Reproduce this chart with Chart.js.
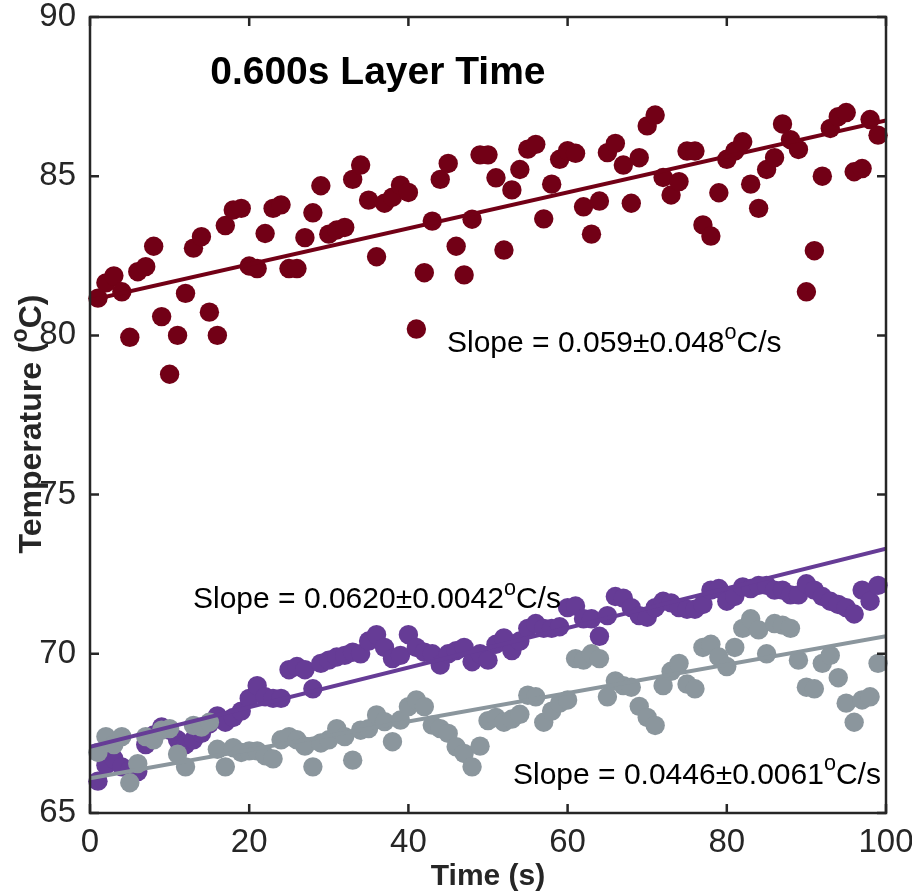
<!DOCTYPE html>
<html lang="en">
<head>
<meta charset="UTF-8">
<title>0.600s Layer Time</title>
<script src="https://cdn.jsdelivr.net/npm/chart.js"></script>
<style>
  html, body { margin: 0; padding: 0; background: #fff; }
</style>
</head>
<body>
<canvas id="grafico" width="912" height="892"></canvas>
<script>
// time axis (s)
var tempos = [1, 2, 3, 4, 5, 6, 7, 8, 9, 10, 11, 12, 13, 14, 15, 16, 17, 18, 19, 20,
  21, 22, 23, 24, 25, 26, 27, 28, 29, 30, 31, 32, 33, 34, 35, 36, 37, 38, 39, 40,
  41, 42, 43, 44, 45, 46, 47, 48, 49, 50, 51, 52, 53, 54, 55, 56, 57, 58, 59, 60,
  61, 62, 63, 64, 65, 66, 67, 68, 69, 70, 71, 72, 73, 74, 75, 76, 77, 78, 79, 80,
  81, 82, 83, 84, 85, 86, 87, 88, 89, 90, 91, 92, 93, 94, 95, 96, 97, 98, 99];

// temperatures (°C)
var tempVermelho = [81.17, 81.65, 81.87, 81.37, 79.94, 82.0, 82.16, 82.8, 80.59, 78.78,
  80.0, 81.32, 82.74, 83.1, 80.73, 80.0, 83.45, 83.94, 83.99, 82.18,
  82.1, 83.2, 83.99, 84.1, 82.1, 82.1, 83.07, 83.85, 84.7, 83.18,
  83.31, 83.39, 84.9, 85.35, 84.25, 82.47, 84.15, 84.34, 84.72, 84.49,
  80.2, 81.97, 83.59, 84.9, 85.4, 82.8, 81.9, 83.65, 85.67, 85.67,
  84.95, 82.68, 84.57, 85.21, 85.85, 86.0, 83.66, 84.75, 85.53, 85.8,
  85.72, 84.04, 83.18, 84.22, 85.74, 86.03, 85.35, 84.15, 85.58, 86.58,
  86.92, 84.96, 84.41, 84.83, 85.79, 85.79, 83.47, 83.12, 84.48, 85.53,
  85.79, 86.08, 84.75, 83.99, 85.21, 85.58, 86.64, 86.15, 85.84, 81.37,
  82.66, 85.0, 86.5, 86.87, 87.0, 85.14, 85.24, 86.78, 86.29];

var tempRoxo = [66.0, 66.5, 66.7, 66.45, 66.35, 66.3, 67.15, 67.45, 67.7, 67.6,
  67.3, 67.15, 67.3, 67.5, 67.8, 68.05, 67.85, 68.0, 68.2, 68.6,
  69.0, 68.65, 68.6, 68.6, 69.5, 69.6, 69.5, 68.9, 69.7, 69.8,
  69.9, 69.95, 70.05, 70.0, 70.4, 70.6, 70.2, 69.85, 69.95, 70.6,
  70.2, 70.05, 70.0, 69.65, 70.0, 70.1, 70.2, 69.75, 70.0, 69.8,
  70.3, 70.5, 70.1, 70.4, 70.8, 70.95, 70.8, 70.8, 70.85, 71.45,
  71.5, 71.1, 71.1, 70.55, 71.2, 71.8, 71.75, 71.45, 71.2, 71.15,
  71.45, 71.65, 71.6, 71.45, 71.4, 71.4, 71.55, 72.0, 72.05, 71.65,
  71.8, 72.1, 72.05, 72.15, 72.15, 72.0, 72.0, 71.85, 71.85, 72.2,
  72.0, 71.8, 71.65, 71.55, 71.45, 71.25, 72.0, 71.65, 72.15];

var tempCinza = [66.9, 67.4, 67.15, 67.4, 65.95, 66.55, 67.4, 67.3, 67.6, 67.65,
  66.85, 66.45, 67.75, 67.7, 67.85, 67.0, 66.45, 67.05, 66.9, 66.95,
  66.95, 66.8, 66.7, 67.3, 67.4, 67.3, 67.1, 66.45, 67.2, 67.3,
  67.65, 67.4, 66.66, 67.6, 67.65, 68.08, 67.87, 67.24, 67.92, 68.34,
  68.55, 68.34, 67.76, 67.65, 67.5, 67.08, 66.87, 66.45, 67.1, 67.9,
  68.0, 67.85, 67.95, 68.1, 68.7, 68.65, 67.85, 68.2, 68.45, 68.55,
  69.85, 69.8, 70.0, 69.85, 68.65, 69.15, 69.0, 68.95, 68.35, 68.0,
  67.75, 69.0, 69.45, 69.7, 69.05, 68.9, 70.2, 70.3, 69.9, 69.6,
  70.2, 70.8, 71.1, 70.75, 70.0, 70.95, 70.9, 70.8, 69.8, 68.95,
  68.9, 69.7, 69.95, 69.25, 68.45, 67.85, 68.55, 68.65, 69.7];

// fitted lines: value at t=0 and t=100
var ajusteX = [0, 100];
var ajusteVermelho = [81.1, 86.75];
var ajusteRoxo = [67.08, 73.3];
var ajusteCinza = [66.09, 70.55];

var ticksX = [0, 20, 40, 60, 80, 100];
var ticksY = [65, 70, 75, 80, 85, 90];

var textosSlope = ['0.059\u00b10.048', '0.0620\u00b10.0042', '0.0446\u00b10.0061'];

var corVermelho = 'rgb(114, 0, 22)';
var corRoxo = 'rgb(102, 60, 150)';
var corCinza = 'rgb(139, 150, 157)';

function pontos(xs, ys) {
  var out = [];
  for (var i = 0; i < xs.length; i++) out.push({ x: xs[i], y: ys[i] });
  return out;
}

var fonte = '"Liberation Sans", Arial, Helvetica, sans-serif';

// text with a superscript "o" before C
function textoRico(ctx, partes, x, y, tam, negrito) {
  var cx = x;
  partes.forEach(function (p) {
    var s = p[1] ? tam * 0.72 : tam;
    ctx.font = (negrito ? 'bold ' : '') + s + 'px ' + fonte;
    ctx.fillText(p[0], cx, p[1] ? y - tam * 0.45 : y);
    cx += ctx.measureText(p[0]).width;
  });
  return cx - x;
}

var moldura = {
  id: 'moldura',
  afterDraw: function (chart) {
    var ctx = chart.ctx, a = chart.chartArea;
    var sx = chart.scales.x, sy = chart.scales.y;
    ctx.save();
    ctx.strokeStyle = '#262626';
    ctx.lineWidth = 2.5;
    ctx.strokeRect(a.left, a.top, a.right - a.left, a.bottom - a.top);
    ctx.beginPath();
    ticksX.forEach(function (v) {
      var px = sx.getPixelForValue(v);
      ctx.moveTo(px, a.bottom); ctx.lineTo(px, a.bottom - 9);
      ctx.moveTo(px, a.top); ctx.lineTo(px, a.top + 9);
    });
    ticksY.forEach(function (v) {
      var py = sy.getPixelForValue(v);
      ctx.moveTo(a.left, py); ctx.lineTo(a.left + 9, py);
      ctx.moveTo(a.right, py); ctx.lineTo(a.right - 9, py);
    });
    ctx.stroke();

    ctx.fillStyle = '#000';
    ctx.textBaseline = 'alphabetic';
    ctx.textAlign = 'left';

    // title
    ctx.font = 'bold 39px ' + fonte;
    ctx.fillText('0.600s Layer Time', sx.getPixelForValue(15.1), sy.getPixelForValue(88.34) + 14);

    // slope labels
    var pos = [[44.85, 79.82], [12.94, 71.78], [53.14, 66.26]];
    textosSlope.forEach(function (t, i) {
      var px = sx.getPixelForValue(pos[i][0]);
      var py = sy.getPixelForValue(pos[i][1]) + 11;
      textoRico(ctx, [['Slope = ' + t, false], ['o', true], ['C/s', false]], px, py, 30, false);
    });

    // axis titles
    ctx.fillStyle = '#262626';
    ctx.font = 'bold 30px ' + fonte;
    ctx.textAlign = 'center';
    ctx.fillText('Time (s)', (a.left + a.right) / 2, 885);

    ctx.save();
    ctx.translate(41, 424);
    ctx.rotate(-Math.PI / 2);
    ctx.textAlign = 'left';
    var partesY = [['Temperature (', false], ['o', true], ['C)', false]];
    var w = 0;
    partesY.forEach(function (p) {
      ctx.font = 'bold ' + (p[1] ? 32 * 0.72 : 32) + 'px ' + fonte;
      w += ctx.measureText(p[0]).width;
    });
    textoRico(ctx, partesY, -w / 2, 0, 32, true);
    ctx.restore();

    ctx.restore();
  }
};

var ctx = document.getElementById('grafico').getContext('2d');
new Chart(ctx, {
  type: 'scatter',
  data: {
    datasets: [
      { type: 'line', data: pontos(ajusteX, ajusteVermelho), borderColor: corVermelho, borderWidth: 4, pointRadius: 0, order: 0 },
      { type: 'line', data: pontos(ajusteX, ajusteRoxo), borderColor: corRoxo, borderWidth: 4, pointRadius: 0, order: 0 },
      { type: 'line', data: pontos(ajusteX, ajusteCinza), borderColor: corCinza, borderWidth: 4, pointRadius: 0, order: 0 },
      { data: pontos(tempos, tempCinza), backgroundColor: corCinza, borderWidth: 0, pointRadius: 9.7, clip: false, order: 1 },
      { data: pontos(tempos, tempRoxo), backgroundColor: corRoxo, borderWidth: 0, pointRadius: 9.7, clip: false, order: 2 },
      { data: pontos(tempos, tempVermelho), backgroundColor: corVermelho, borderWidth: 0, pointRadius: 9.7, clip: false, order: 3 }
    ]
  },
  options: {
    responsive: false,
    animation: false,
    devicePixelRatio: 1,
    layout: { padding: { left: 0, right: 26, top: 17, bottom: 0 } },
    plugins: { legend: { display: false }, tooltip: { enabled: false } },
    scales: {
      x: {
        type: 'linear', min: 0, max: 100,
        grid: { display: false, drawTicks: false },
        border: { display: false },
        ticks: { stepSize: 20, padding: 10, color: '#262626', font: { family: fonte, size: 33 } },
        afterFit: function (s) { s.height = 79; s.paddingLeft = 0; s.paddingRight = 0; }
      },
      y: {
        type: 'linear', min: 65, max: 90,
        grid: { display: false, drawTicks: false },
        border: { display: false },
        ticks: { stepSize: 5, padding: 14, color: '#262626', font: { family: fonte, size: 33 } },
        afterFit: function (s) { s.width = 90; s.paddingTop = 0; s.paddingBottom = 0; }
      }
    }
  },
  plugins: [moldura]
});
</script>
</body>
</html>
